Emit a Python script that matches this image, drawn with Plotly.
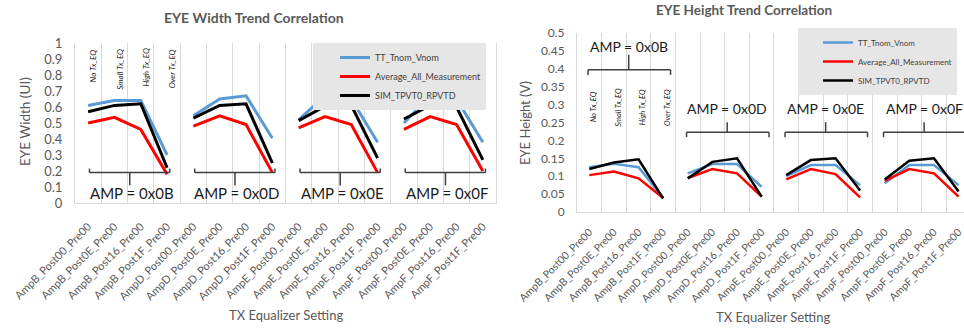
import plotly.graph_objects as go

# ---------------- data ----------------
categories = [
    "AmpB_Post00_Pre00", "AmpB_Post0E_Pre00", "AmpB_Post16_Pre00", "AmpB_Post1F_Pre00",
    "AmpD_Post00_Pre00", "AmpD_Post0E_Pre00", "AmpD_Post16_Pre00", "AmpD_Post1F_Pre00",
    "AmpE_Post00_Pre00", "AmpE_Post0E_Pre00", "AmpE_Post16_Pre00", "AmpE_Post1F_Pre00",
    "AmpF_Post00_Pre00", "AmpF_Post0E_Pre00", "AmpF_Post16_Pre00", "AmpF_Post1F_Pre00",
]
group_labels = ["AMP = 0x0B", "AMP = 0x0D", "AMP = 0x0E", "AMP = 0x0F"]
eq_labels = ["No Tx_EQ", "Small Tx_EQ", "High Tx_EQ", "Over Tx_EQ"]
series_names = ["TT_Tnom_Vnom", "Average_All_Measurement", "SIM_TPVT0_RPVTD"]

width_tt = [0.61, 0.64, 0.64, 0.30, 0.545, 0.65, 0.67, 0.405,
            0.52, 0.67, 0.65, 0.38, 0.50, 0.67, 0.65, 0.38]
width_avg = [0.50, 0.535, 0.46, 0.18, 0.48, 0.545, 0.49, 0.19,
             0.47, 0.54, 0.49, 0.19, 0.46, 0.54, 0.49, 0.20]
width_sim = [0.57, 0.61, 0.62, 0.22, 0.53, 0.61, 0.62, 0.25,
             0.515, 0.605, 0.61, 0.28, 0.525, 0.61, 0.60, 0.27]

height_tt = [0.125, 0.135, 0.125, 0.040, 0.108, 0.134, 0.134, 0.070,
             0.100, 0.131, 0.131, 0.075, 0.080, 0.131, 0.131, 0.075]
height_avg = [0.103, 0.113, 0.094, 0.039, 0.095, 0.120, 0.108, 0.043,
              0.091, 0.120, 0.106, 0.041, 0.087, 0.120, 0.108, 0.043]
height_sim = [0.120, 0.138, 0.147, 0.038, 0.094, 0.140, 0.150, 0.043,
              0.103, 0.145, 0.150, 0.060, 0.091, 0.143, 0.150, 0.057]

width_ticks = [0, 0.1, 0.2, 0.3, 0.4, 0.5, 0.6, 0.7, 0.8, 0.9, 1]
width_tick_text = ["0", "0.1", "0.2", "0.3", "0.4", "0.5", "0.6", "0.7", "0.8", "0.9", "1"]
height_ticks = [0, 0.05, 0.1, 0.15, 0.2, 0.25, 0.3, 0.35, 0.4, 0.45, 0.5]
height_tick_text = ["0", "0.05", "0.1", "0.15", "0.2", "0.25", "0.3", "0.35", "0.4", "0.45", "0.5"]

# ---------------- style ----------------
FONT = "Lato, Open Sans, sans-serif"
GRAY = "#595959"
GRID = "#d9d9d9"
colors = ["#5b9bd5", "#ff0000", "#000000"]
W, H = 964, 328

def px(x):
    return x / W

def py(y):
    return 1 - y / H

fig = go.Figure()

def add_chart(series, xa, ya, legend, lw):
    for vals, name, color in zip(series, series_names, colors):
        for g in range(len(group_labels)):
            idx = list(range(4 * g, 4 * g + 4))
            fig.add_trace(go.Scatter(
                x=idx, y=[vals[i] for i in idx], mode="lines",
                line=dict(color=color, width=lw),
                name=name, legend=legend, legendgroup=legend + name,
                showlegend=(g == 0), xaxis=xa, yaxis=ya,
                hoverinfo="skip",
            ))

add_chart([width_tt, width_avg, width_sim], "x", "y", "legend", 3)
add_chart([height_tt, height_avg, height_sim], "x2", "y2", "legend2", 2.5)

n = len(categories)
boundaries = [i - 0.5 for i in range(n + 1)]

def xaxis_cfg(domain, rng, fsize, anchor, tlen):
    return dict(
        domain=domain, range=rng, anchor=anchor, automargin=False,
        tickmode="array", tickvals=list(range(n)), ticktext=categories,
        tickangle=-45, tickfont=dict(family=FONT, size=fsize, color=GRAY),
        ticklabeloverflow="allow",
        ticks="outside", ticklen=tlen, tickcolor="rgba(0,0,0,0)",
        showgrid=False, zeroline=False,
        showline=True, linecolor=GRID, linewidth=1,
        minor=dict(tickmode="array", tickvals=boundaries, showgrid=True,
                   gridcolor=GRID, gridwidth=1, ticks=""),
        fixedrange=True,
    )

def yaxis_cfg(domain, rng, tv, tt, fsize, anchor, mirror):
    return dict(
        domain=domain, range=rng, anchor=anchor, automargin=False,
        tickmode="array", tickvals=tv, ticktext=tt,
        tickfont=dict(family=FONT, size=fsize, color=GRAY),
        ticks="outside", ticklen=9, tickcolor="rgba(0,0,0,0)",
        showgrid=False, zeroline=False,
        showline=True, linecolor=GRID, linewidth=1, mirror=mirror,
        fixedrange=True,
    )

xa1 = xaxis_cfg([px(75), px(496)], [-0.5, 15.5], 11, "y", 12)
xa2 = xaxis_cfg([px(577), 1.0], [-0.5, 15.22], 10.5, "y2", 9)

ya1 = yaxis_cfg([1 - 203 / H, 1 - 43 / H], [0, 1], width_ticks, width_tick_text, 13, "x", True)
ya2 = yaxis_cfg([1 - 212 / H, 1 - 33 / H], [0, 0.5], height_ticks, height_tick_text, 12, "x2", False)

shapes = []
annotations = []

# brackets and AMP labels, left chart
for g, lab in enumerate(group_labels):
    s, e = 4 * g, 4 * g + 3
    x0, x1, xm = s + 0.05, e + 0.1, s + 1.58
    yb, ye, ym = 0.19, 0.215, 0.11
    for (a, b, c, d) in [(x0, yb, x1, yb), (x0, yb, x0, ye), (x1, yb, x1, ye), (xm, yb, xm, ym)]:
        shapes.append(dict(type="line", xref="x", yref="y", x0=a, y0=b, x1=c, y1=d,
                           line=dict(color="#404040", width=1.5)))
    annotations.append(dict(xref="x", yref="y", x=s + 1.65, y=0.06, text=lab, showarrow=False,
                            font=dict(family=FONT, size=15, color="#1a1a1a"),
                            xanchor="center", yanchor="middle"))

# brackets and AMP labels, right chart
for g, lab in enumerate(group_labels):
    s, e = 4 * g, 4 * g + 3
    x0, x1, xm = s - 0.05, e + 0.3, s + 1.6
    if g == 0:
        yb, ye, ym, yt = 0.397, 0.383, 0.439, 0.461
    else:
        yb, ye, ym, yt = 0.223, 0.209, 0.251, 0.29
    for (a, b, c, d) in [(x0, yb, x1, yb), (x0, yb, x0, ye), (x1, yb, x1, ye), (xm, yb, xm, ym)]:
        shapes.append(dict(type="line", xref="x2", yref="y2", x0=a, y0=b, x1=c, y1=d,
                           line=dict(color="#404040", width=1.5)))
    annotations.append(dict(xref="x2", yref="y2", x=s + 1.6, y=yt, text=lab, showarrow=False,
                            font=dict(family=FONT, size=14, color="#1a1a1a"),
                            xanchor="center", yanchor="middle"))

# rotated EQ labels
for i, lab in enumerate(eq_labels):
    annotations.append(dict(xref="x", yref="y", x=i + 0.18, y=0.975, text="<i>" + lab + "</i>",
                            textangle=-90, showarrow=False, xanchor="center", yanchor="top",
                            font=dict(family=FONT, size=8, color="#1a1a1a")))
    annotations.append(dict(xref="x2", yref="y2", x=i + 0.15, y=0.293, text="<i>" + lab + "</i>",
                            textangle=-90, showarrow=False, xanchor="center", yanchor="middle",
                            font=dict(family=FONT, size=7.5, color="#1a1a1a")))

# titles
annotations += [
    dict(xref="paper", yref="paper", x=px(254), y=py(17), text="<b>EYE Width Trend Correlation</b>",
         showarrow=False, font=dict(family=FONT, size=14, color=GRAY), xanchor="center", yanchor="middle"),
    dict(xref="paper", yref="paper", x=px(744), y=py(10), text="<b>EYE Height Trend Correlation</b>",
         showarrow=False, font=dict(family=FONT, size=13.5, color=GRAY), xanchor="center", yanchor="middle"),
    dict(xref="paper", yref="paper", x=px(25), y=py(122), text="EYE Width (UI)", textangle=-90,
         showarrow=False, font=dict(family=FONT, size=13.5, color=GRAY), xanchor="center", yanchor="middle"),
    dict(xref="paper", yref="paper", x=px(525), y=py(123), text="EYE Height (V)", textangle=-90,
         showarrow=False, font=dict(family=FONT, size=13, color=GRAY), xanchor="center", yanchor="middle"),
    dict(xref="paper", yref="paper", x=px(286), y=py(315), text="TX Equalizer Setting",
         showarrow=False, font=dict(family=FONT, size=13, color=GRAY), xanchor="center", yanchor="middle"),
    dict(xref="paper", yref="paper", x=px(773), y=py(317), text="TX Equalizer Setting",
         showarrow=False, font=dict(family=FONT, size=13, color=GRAY), xanchor="center", yanchor="middle"),
]

fig.update_layout(
    width=W, height=H, margin=dict(l=0, r=0, t=0, b=0, autoexpand=False),
    paper_bgcolor="white", plot_bgcolor="white",
    font=dict(family=FONT),
    xaxis=xa1, yaxis=ya1, xaxis2=xa2, yaxis2=ya2,
    shapes=shapes, annotations=annotations,
    legend=dict(x=px(313), y=py(43), xanchor="left", yanchor="top",
                bgcolor="#e7e6e6", font=dict(family=FONT, size=9, color="#404040"),
                tracegroupgap=0, indentation=22, itemwidth=30),
    legend2=dict(x=px(798), y=py(28), xanchor="left", yanchor="top",
                 bgcolor="#e7e6e6", font=dict(family=FONT, size=8, color="#404040"),
                 tracegroupgap=0, indentation=20, itemwidth=30),
    showlegend=True,
)

fig.write_html("out.html")
